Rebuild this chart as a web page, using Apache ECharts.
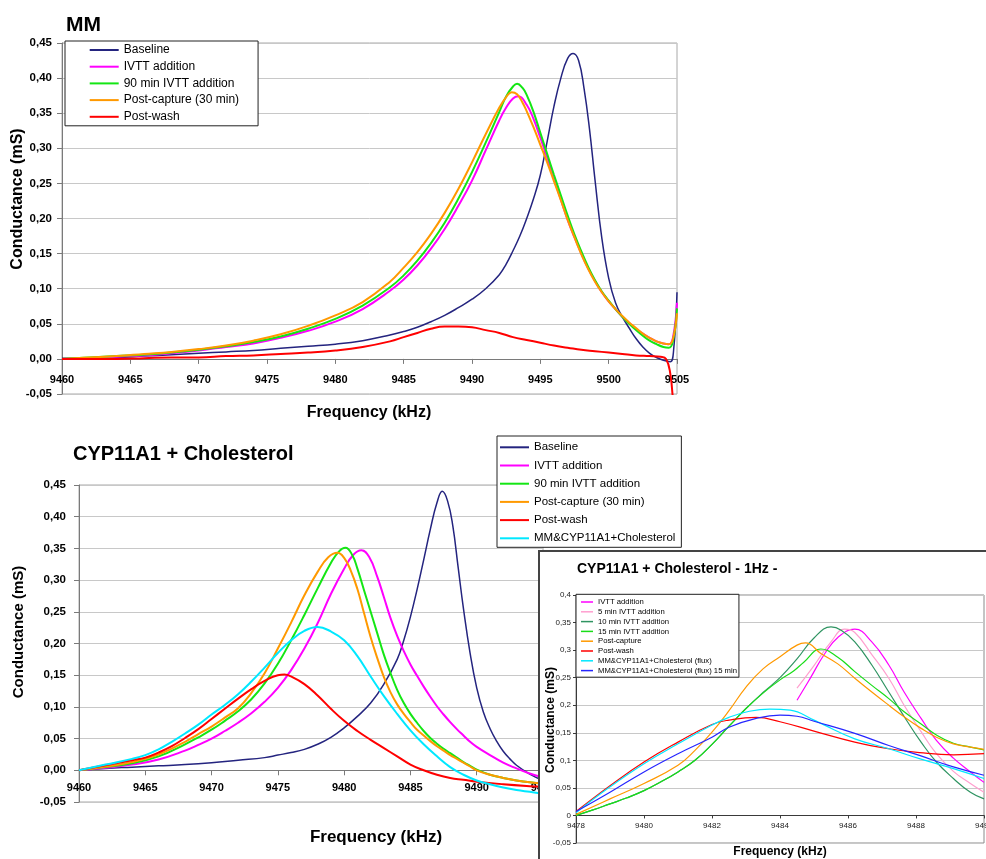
<!DOCTYPE html>
<html>
<head>
<meta charset="utf-8">
<script src="https://cdn.jsdelivr.net/npm/echarts@6/dist/echarts.min.js"></script>
<style>
  html, body { margin: 0; padding: 0; background: #fff; width: 986px; height: 859px; overflow: hidden; position: relative; }
  #mm  { position: absolute; left: 0; top: 0; width: 986px; height: 430px; }
  #cyp { position: absolute; left: 0; top: 430px; width: 986px; height: 429px; }
  #hz  { position: absolute; left: 538px; top: 550px; width: 460px; height: 320px; border: 2px solid #444; background: #fff; }
</style>
</head>
<body>
<div id="mm"></div>
<div id="cyp"></div>
<div id="hz"></div>
<script>
// ---------- Panel 1: MM — frequency (kHz), conductance (mS) ----------
const mmBaseline = [[9460,0.001],[9462,0.001],[9464,0.002],[9466,0.004],[9468,0.006],[9470,0.008],[9472,0.010],[9474,0.012],[9476,0.015],[9478,0.018],[9480,0.021],[9482,0.026],[9484,0.034],[9485,0.039],[9486,0.045],[9487,0.053],[9488,0.062],[9489,0.073],[9490,0.085],[9491,0.100],[9492,0.120],[9492.5,0.135],[9493,0.154],[9493.5,0.175],[9494,0.200],[9494.5,0.228],[9495,0.262],[9495.5,0.310],[9496,0.360],[9496.5,0.400],[9497,0.428],[9497.4,0.435],[9497.8,0.425],[9498.2,0.385],[9498.6,0.327],[9499,0.255],[9499.5,0.172],[9500,0.115],[9500.5,0.080],[9501,0.060],[9501.5,0.044],[9502,0.029],[9502.5,0.017],[9503,0.008],[9503.5,0.002],[9504,-0.002],[9504.5,-0.004],[9504.75,0.012],[9505,0.095]];
const mmIvtt = [[9460,0],[9462,0.001],[9464,0.003],[9466,0.005],[9468,0.008],[9470,0.012],[9472,0.017],[9474,0.022],[9476,0.030],[9478,0.040],[9480,0.053],[9482,0.071],[9484,0.097],[9485,0.113],[9486,0.133],[9487,0.157],[9488,0.185],[9489,0.218],[9490,0.254],[9491,0.297],[9492,0.340],[9492.5,0.358],[9493,0.371],[9493.4,0.374],[9494,0.362],[9494.5,0.342],[9495,0.315],[9495.5,0.287],[9496,0.257],[9496.5,0.227],[9497,0.198],[9497.5,0.173],[9498,0.150],[9498.5,0.129],[9499,0.111],[9499.5,0.095],[9500,0.082],[9500.5,0.071],[9501,0.060],[9501.5,0.051],[9502,0.043],[9502.5,0.036],[9503,0.030],[9503.5,0.025],[9504,0.022],[9504.4,0.021],[9504.7,0.030],[9505,0.080]];
const mmIvtt90 = [[9460,0],[9462,0.002],[9464,0.004],[9466,0.006],[9468,0.009],[9470,0.013],[9472,0.018],[9474,0.024],[9476,0.032],[9478,0.043],[9480,0.057],[9482,0.076],[9484,0.102],[9485,0.119],[9486,0.140],[9487,0.165],[9488,0.194],[9489,0.228],[9490,0.266],[9491,0.308],[9492,0.352],[9492.5,0.374],[9493,0.388],[9493.3,0.392],[9493.7,0.386],[9494,0.376],[9494.5,0.352],[9495,0.322],[9495.5,0.292],[9496,0.262],[9496.5,0.233],[9497,0.204],[9497.5,0.177],[9498,0.153],[9498.5,0.131],[9499,0.112],[9499.5,0.096],[9500,0.083],[9500.5,0.071],[9501,0.060],[9501.5,0.050],[9502,0.041],[9502.5,0.033],[9503,0.026],[9503.5,0.021],[9504,0.017],[9504.4,0.016],[9504.7,0.025],[9505,0.072]];
const mmPostCapture = [[9460,0],[9462,0.002],[9464,0.004],[9466,0.007],[9468,0.010],[9470,0.014],[9472,0.019],[9474,0.026],[9476,0.035],[9478,0.047],[9480,0.062],[9482,0.081],[9484,0.110],[9485,0.130],[9486,0.152],[9487,0.178],[9488,0.208],[9489,0.242],[9490,0.280],[9491,0.320],[9492,0.358],[9492.5,0.373],[9492.9,0.380],[9493.3,0.377],[9493.7,0.365],[9494,0.353],[9494.5,0.330],[9495,0.305],[9495.5,0.280],[9496,0.253],[9496.5,0.226],[9497,0.198],[9497.5,0.173],[9498,0.149],[9498.5,0.128],[9499,0.110],[9499.5,0.095],[9500,0.082],[9500.5,0.071],[9501,0.061],[9501.5,0.052],[9502,0.044],[9502.5,0.036],[9503,0.030],[9503.5,0.025],[9504,0.022],[9504.4,0.021],[9504.7,0.028],[9505,0.065]];
const mmPostWash = [[9460,0],[9462,0.000],[9464,0.000],[9466,0.001],[9468,0.002],[9470,0.002],[9472,0.004],[9474,0.005],[9476,0.007],[9478,0.009],[9480,0.012],[9482,0.017],[9484,0.025],[9485,0.031],[9486,0.037],[9487,0.043],[9488,0.046],[9489,0.046],[9490,0.045],[9491,0.041],[9492,0.037],[9493,0.031],[9494,0.027],[9495,0.023],[9496,0.019],[9497,0.016],[9498,0.013],[9499,0.011],[9500,0.009],[9501,0.007],[9502,0.005],[9503,0.004],[9503.8,0.003],[9504.2,0.000],[9504.5,-0.020],[9504.7,-0.060]];
const mmNames = ['Baseline', 'IVTT addition', '90 min IVTT addition', 'Post-capture (30 min)', 'Post-wash'];

// ---------- Panel 2: CYP11A1 + Cholesterol ----------
const cypBaseline = [[9460,0.000],[9462,0.003],[9464,0.005],[9466,0.007],[9468,0.009],[9470,0.012],[9472,0.016],[9474,0.020],[9475,0.024],[9476,0.028],[9477,0.033],[9478,0.041],[9479,0.052],[9480,0.067],[9481,0.085],[9482,0.106],[9483,0.136],[9484,0.175],[9484.5,0.205],[9485,0.242],[9485.5,0.285],[9486,0.332],[9486.5,0.380],[9487,0.422],[9487.4,0.440],[9487.8,0.425],[9488.2,0.385],[9488.6,0.320],[9489,0.255],[9489.5,0.185],[9490,0.130],[9490.5,0.092],[9491,0.066],[9491.5,0.046],[9492,0.030],[9492.5,0.018],[9493,0.008],[9494,-0.006],[9495,-0.016]];
const cypIvtt = [[9460,0],[9462,0.004],[9464,0.009],[9466,0.017],[9468,0.031],[9469,0.040],[9470,0.050],[9471,0.062],[9472,0.075],[9473,0.090],[9474,0.108],[9475,0.130],[9476,0.158],[9477,0.192],[9478,0.232],[9479,0.278],[9480,0.318],[9480.7,0.340],[9481.3,0.347],[9481.9,0.336],[9482.5,0.305],[9483,0.273],[9483.5,0.240],[9484,0.212],[9484.5,0.188],[9485,0.167],[9485.5,0.149],[9486,0.132],[9486.5,0.116],[9487,0.101],[9487.5,0.088],[9488,0.076],[9488.5,0.065],[9489,0.055],[9489.5,0.045],[9490,0.037],[9491,0.024],[9492,0.012],[9493,0.003],[9494,-0.005],[9495,-0.011]];
const cypIvtt90 = [[9460,0],[9462,0.005],[9464,0.011],[9466,0.022],[9468,0.041],[9469,0.052],[9470,0.064],[9471,0.078],[9472,0.093],[9473,0.112],[9474,0.137],[9475,0.168],[9476,0.205],[9477,0.245],[9478,0.287],[9479,0.327],[9479.6,0.345],[9480.1,0.351],[9480.6,0.340],[9481,0.318],[9481.5,0.284],[9482,0.250],[9482.5,0.216],[9483,0.182],[9483.5,0.153],[9484,0.127],[9484.5,0.106],[9485,0.089],[9485.5,0.075],[9486,0.062],[9486.5,0.051],[9487,0.042],[9487.5,0.034],[9488,0.027],[9488.5,0.020],[9489,0.013],[9489.5,0.007],[9490,0.001],[9491,-0.007],[9492,-0.012],[9493,-0.016],[9494,-0.019],[9495,-0.021]];
const cypPostCapture = [[9460,0],[9462,0.006],[9464,0.013],[9466,0.025],[9468,0.045],[9469,0.057],[9470,0.069],[9471,0.083],[9472,0.098],[9473,0.122],[9474,0.153],[9475,0.192],[9476,0.233],[9477,0.276],[9478,0.313],[9478.8,0.336],[9479.5,0.343],[9480,0.335],[9480.5,0.315],[9481,0.286],[9481.5,0.248],[9482,0.210],[9482.5,0.177],[9483,0.147],[9483.5,0.123],[9484,0.104],[9484.5,0.089],[9485,0.076],[9485.5,0.064],[9486,0.055],[9486.5,0.046],[9487,0.038],[9487.5,0.031],[9488,0.024],[9488.5,0.018],[9489,0.012],[9489.5,0.006],[9490,0.000],[9491,-0.007],[9492,-0.012],[9493,-0.016],[9494,-0.019],[9495,-0.021]];
const cypPostWash = [[9460,0],[9462,0.008],[9464,0.016],[9465,0.020],[9466,0.028],[9467,0.038],[9468,0.051],[9469,0.065],[9470,0.081],[9471,0.097],[9472,0.113],[9473,0.128],[9474,0.141],[9475,0.150],[9475.5,0.151],[9476,0.148],[9477,0.136],[9478,0.118],[9479,0.097],[9480,0.078],[9481,0.062],[9482,0.048],[9483,0.035],[9484,0.022],[9485,0.009],[9486,0.000],[9487,-0.007],[9488,-0.012],[9489,-0.015],[9490,-0.018],[9492,-0.022],[9494,-0.025],[9495,-0.026]];
const cypMix = [[9460,0],[9462,0.009],[9464,0.018],[9465,0.024],[9466,0.033],[9467,0.045],[9468,0.058],[9469,0.072],[9470,0.088],[9471,0.103],[9472,0.120],[9473,0.140],[9474,0.162],[9475,0.185],[9476,0.205],[9477,0.220],[9478,0.226],[9479,0.219],[9480,0.205],[9481,0.180],[9482,0.148],[9483,0.117],[9484,0.089],[9485,0.063],[9486,0.041],[9487,0.022],[9488,0.005],[9489,-0.007],[9490,-0.016],[9491,-0.022],[9492,-0.027],[9493,-0.031],[9494,-0.034],[9495,-0.037]];
const cypNames = ['Baseline', 'IVTT addition', '90 min IVTT addition', 'Post-capture (30 min)', 'Post-wash', 'MM&CYP11A1+Cholesterol'];

// ---------- Panel 3: CYP11A1 + Cholesterol at 1 Hz resolution ----------
const hzIvtt = [[9484.5,0.209],[9484.9,0.250],[9485.3,0.292],[9485.7,0.323],[9486.2,0.338],[9486.7,0.315],[9487.2,0.273],[9487.65,0.224],[9488.15,0.176],[9488.6,0.136],[9489.1,0.104],[9489.6,0.079],[9490,0.060]];
const hzIvtt5 = [[9484.5,0.231],[9485,0.272],[9485.5,0.315],[9485.9,0.338],[9486.2,0.332],[9486.7,0.292],[9487.2,0.249],[9487.65,0.200],[9488.15,0.152],[9488.6,0.112],[9489.1,0.080],[9489.6,0.058],[9490,0.042]];
const hzIvtt10 = [[9478,0.000],[9478.5,0.010],[9479,0.021],[9479.5,0.032],[9480,0.045],[9480.5,0.061],[9481,0.079],[9481.5,0.100],[9482,0.129],[9482.5,0.162],[9483,0.194],[9483.5,0.223],[9484,0.250],[9484.5,0.284],[9485,0.322],[9485.5,0.342],[9485.8,0.336],[9486.2,0.315],[9486.7,0.273],[9487.2,0.224],[9487.75,0.170],[9488.15,0.133],[9488.6,0.097],[9489.1,0.067],[9489.6,0.042],[9490,0.030]];
const hzIvtt15 = [[9478,0.000],[9478.5,0.010],[9479,0.021],[9479.5,0.032],[9480,0.045],[9480.5,0.061],[9481,0.079],[9481.5,0.100],[9482,0.129],[9482.5,0.162],[9483,0.194],[9483.5,0.222],[9484,0.246],[9484.4,0.262],[9484.7,0.278],[9485.2,0.302],[9485.7,0.287],[9486.2,0.261],[9486.7,0.236],[9487.2,0.212],[9487.65,0.188],[9488.15,0.166],[9488.6,0.146],[9489.1,0.131],[9489.6,0.124],[9490,0.119]];
const hzPostCapture = [[9478,0.002],[9479,0.030],[9480,0.058],[9481,0.091],[9481.5,0.118],[9482,0.151],[9482.5,0.190],[9483,0.233],[9483.5,0.266],[9484,0.288],[9484.5,0.309],[9484.75,0.313],[9485.2,0.294],[9485.7,0.275],[9486.2,0.249],[9486.7,0.224],[9487.2,0.200],[9487.65,0.179],[9488.15,0.158],[9488.6,0.142],[9489.1,0.130],[9489.6,0.124],[9490,0.120]];
const hzPostWash = [[9478,0.007],[9479,0.054],[9480,0.097],[9481,0.133],[9482,0.165],[9482.5,0.173],[9483.3,0.178],[9484,0.170],[9485,0.153],[9486.2,0.133],[9487.2,0.121],[9488.1,0.114],[9489.1,0.110],[9490,0.112]];
const hzFlux = [[9478,0.005],[9479,0.052],[9480,0.094],[9481,0.130],[9482,0.164],[9482.5,0.178],[9483.1,0.189],[9483.7,0.193],[9484.3,0.191],[9485,0.173],[9485.2,0.167],[9486.2,0.139],[9487.2,0.121],[9488.1,0.103],[9489.1,0.085],[9490,0.067]];
const hzFlux15 = [[9478,0.007],[9479,0.042],[9480,0.079],[9481,0.112],[9482,0.142],[9482.5,0.160],[9483.3,0.176],[9484,0.182],[9484.5,0.180],[9485,0.171],[9486.2,0.149],[9487.2,0.127],[9488.1,0.109],[9489.1,0.088],[9490,0.073]];
const hzNames = ['IVTT addition', '5 min IVTT addition', '10 min IVTT addition', '15 min IVTT addition', 'Post-capture', 'Post-wash', 'MM&CYP11A1+Cholesterol (flux)', 'MM&CYP11A1+Cholesterol (flux) 15 min'];

const FONT = 'Liberation Sans, Arial, Helvetica, sans-serif';
const C = { navy: '#24247f', magenta: '#ff00ff', green: '#14e614', orange: '#ff9900', red: '#ff0000', cyan: '#00e8ff',
            pink: '#ff9fcf', seaGreen: '#2f9462', brightGreen: '#18dd18', blue: '#2626ff' };

function line(name, data, color, width) {
  return { name, type: 'line', data, symbol: 'none', showSymbol: false, smooth: 0.45,
           lineStyle: { color, width }, itemStyle: { color }, emphasis: { disabled: true } };
}
function comma2(v) { return (Math.round(v * 100) / 100).toFixed(2).replace('.', ','); }
function commaShort(v) { return String(Math.round(v * 100) / 100).replace('.', ','); }
function plain(v) { return String(Math.round(v)); }
function label(x, y, str, font) {
  return { type: 'text', x, y, silent: true,
    style: { text: str, font, fill: '#000', align: 'left', verticalAlign: 'middle' } };
}
function centered(x, y, str, font, rotated) {
  return { type: 'text', x, y, silent: true, rotation: rotated ? Math.PI / 2 : 0,
    style: { text: str, font, fill: '#000', align: 'center', verticalAlign: 'middle' } };
}

// x labels sit just under the zero line, so they are pulled up from the grid bottom
function bigAxes(xMin, xMax, yLabelMargin, xLabelMargin) {
  return {
    xAxis: { type: 'value', min: xMin, max: xMax, interval: 5,
      axisLine: { onZero: true, lineStyle: { color: '#7a7a7a', width: 1 } },
      axisTick: { length: 5, lineStyle: { color: '#7a7a7a' } },
      axisLabel: { color: '#000', fontFamily: FONT, fontSize: 11, fontWeight: 'bold', margin: xLabelMargin,
                   showMinLabel: true, showMaxLabel: true, formatter: plain },
      splitLine: { show: false } },
    yAxis: { type: 'value', min: -0.05, max: 0.45, interval: 0.05,
      axisLine: { show: true, onZero: false, lineStyle: { color: '#7a7a7a', width: 1 } },
      axisTick: { show: true, length: 5, lineStyle: { color: '#7a7a7a' } },
      axisLabel: { color: '#000', fontFamily: FONT, fontSize: 11.5, fontWeight: 'bold', margin: yLabelMargin, formatter: comma2 },
      splitLine: { show: true, lineStyle: { color: '#c8c8c8', width: 1 } } }
  };
}
function legendBox(left, top, names, opts) {
  return Object.assign({ left, top, orient: 'vertical', selectedMode: false, data: names, icon: 'rect',
    borderColor: '#222', borderWidth: 1, backgroundColor: '#fff' }, opts);
}

// ---- Panel 1 ----
const mmChart = echarts.init(document.getElementById('mm'));
mmChart.setOption(Object.assign({
  animation: false,
  grid: { left: 62, top: 43, width: 615, height: 351, show: true, borderColor: '#a8a8a8', borderWidth: 1, backgroundColor: '#fff' },
  legend: legendBox(65, 41, mmNames, { itemWidth: 29, itemHeight: 2, itemGap: 2.7, padding: [2, 19, 2, 24.7],
    textStyle: { fontFamily: FONT, fontSize: 12, color: '#000', lineHeight: 14 } }),
  graphic: [
    label(66, 25, 'MM', 'bold 21px ' + FONT),
    centered(18, 199, 'Conductance (mS)', 'bold 16px ' + FONT, true),
    centered(369, 413, 'Frequency (kHz)', 'bold 16px ' + FONT, false)
  ],
  series: [
    line(mmNames[0], mmBaseline, C.navy, 1.5),
    line(mmNames[1], mmIvtt, C.magenta, 2),
    line(mmNames[2], mmIvtt90, C.green, 2),
    line(mmNames[3], mmPostCapture, C.orange, 2),
    line(mmNames[4], mmPostWash, C.red, 2)
  ]
}, bigAxes(9460, 9505, 10, -20)));

// ---- Panel 2 ----
const cypChart = echarts.init(document.getElementById('cyp'));
cypChart.setOption(Object.assign({
  animation: false,
  grid: { left: 79, top: 55, width: 464, height: 317, show: true, borderColor: '#a8a8a8', borderWidth: 1, backgroundColor: '#fff' },
  legend: legendBox(497, 6, cypNames, { itemWidth: 29, itemHeight: 2, itemGap: 4.2, padding: [4.3, 6, 2, 3],
    textStyle: { fontFamily: FONT, fontSize: 11.5, color: '#000', lineHeight: 14 } }),
  graphic: [
    label(73, 24, 'CYP11A1 + Cholesterol', 'bold 20px ' + FONT),
    centered(19, 202, 'Conductance (mS)', 'bold 15px ' + FONT, true),
    centered(376, 407, 'Frequency (kHz)', 'bold 17px ' + FONT, false)
  ],
  series: [
    line(cypNames[0], cypBaseline, C.navy, 1.5),
    line(cypNames[1], cypIvtt, C.magenta, 2),
    line(cypNames[2], cypIvtt90, C.green, 2),
    line(cypNames[3], cypPostCapture, C.orange, 2),
    line(cypNames[4], cypPostWash, C.red, 2),
    line(cypNames[5], cypMix, C.cyan, 2)
  ]
}, bigAxes(9460, 9495, 13, -19.5)));

// ---- Panel 3 (inset) ----
const hzChart = echarts.init(document.getElementById('hz'));
hzChart.setOption({
  animation: false,
  grid: { left: 36, top: 43, width: 408, height: 248, show: true, borderColor: '#8a8a8a', borderWidth: 1, backgroundColor: '#fff' },
  legend: legendBox(36, 42.3, hzNames, { itemWidth: 12, itemHeight: 1.5, itemGap: 0.8, padding: [3.2, 2, 2.1, 5],
    textStyle: { fontFamily: FONT, fontSize: 7.7, color: '#000', lineHeight: 9 } }),
  xAxis: { type: 'value', min: 9478, max: 9490, interval: 2,
    axisLine: { onZero: true, lineStyle: { color: '#3a3a3a', width: 1 } },
    axisTick: { length: 3, lineStyle: { color: '#3a3a3a' } },
    axisLabel: { color: '#222', fontFamily: FONT, fontSize: 8, margin: -21, showMinLabel: true, showMaxLabel: true, formatter: plain },
    splitLine: { show: false } },
  yAxis: { type: 'value', min: -0.05, max: 0.4, interval: 0.05,
    axisLine: { show: true, onZero: false, lineStyle: { color: '#3a3a3a', width: 1 } },
    axisTick: { show: true, length: 3, lineStyle: { color: '#3a3a3a' } },
    axisLabel: { color: '#222', fontFamily: FONT, fontSize: 8, margin: 5, formatter: commaShort },
    splitLine: { show: true, lineStyle: { color: '#c8c8c8', width: 1 } } },
  graphic: [
    label(37, 17, 'CYP11A1 + Cholesterol - 1Hz -', 'bold 14px ' + FONT),
    centered(11, 168, 'Conductance (mS)', 'bold 12px ' + FONT, true),
    centered(240, 300, 'Frequency (kHz)', 'bold 12px ' + FONT, false)
  ],
  series: [
    line(hzNames[0], hzIvtt, C.magenta, 1.2),
    line(hzNames[1], hzIvtt5, C.pink, 1.2),
    line(hzNames[2], hzIvtt10, C.seaGreen, 1.2),
    line(hzNames[3], hzIvtt15, C.brightGreen, 1.2),
    line(hzNames[4], hzPostCapture, C.orange, 1.2),
    line(hzNames[5], hzPostWash, C.red, 1.2),
    line(hzNames[6], hzFlux, C.cyan, 1.2),
    line(hzNames[7], hzFlux15, C.blue, 1.2)
  ]
});
</script>
</body>
</html>
